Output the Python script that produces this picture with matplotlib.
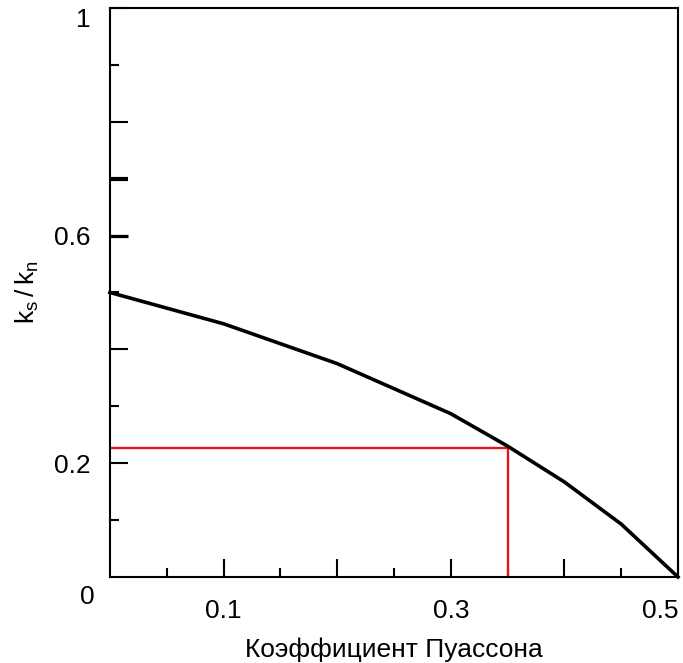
import matplotlib
matplotlib.use('Agg')
import matplotlib.pyplot as plt

plt.rcParams['font.family'] = ['Liberation Sans', 'DejaVu Sans']
plt.rcParams['mathtext.fontset'] = 'custom'
plt.rcParams['mathtext.rm'] = 'Liberation Sans'

# Данные кривой ks/kn от коэффициента Пуассона
nu = [0.0, 0.1, 0.2, 0.3, 0.35, 0.4, 0.45, 0.5]
ratio = [0.5, 0.445, 0.375, 0.287, 0.23, 0.167, 0.093, 0.0]

# Отметка выбранного значения
nu_mark = 0.35
ratio_mark = 0.226

x_major = [0.1, 0.2, 0.3, 0.4, 0.5]
x_labels = ['0.1', '', '0.3', '', '0.5']
x_minor = [0.05, 0.15, 0.25, 0.35, 0.45]
y_major = [0.2, 0.4, 0.6, 0.8, 1.0]
y_labels = ['0.2', '', '0.6', '', '1']
y_minor = [0.1, 0.3, 0.5, 0.9]

fig = plt.figure(figsize=(6.83, 6.63), dpi=100)
ax = fig.add_axes([0.161, 0.1297, 0.8317, 0.8583])

ax.plot(nu, ratio, color='black', lw=2.6, clip_on=False, zorder=3)
ax.plot([0, nu_mark, nu_mark], [ratio_mark, ratio_mark, 0], color='#e8141c', lw=1.7, zorder=2)

ax.set_xlim(0, 0.5)
ax.set_ylim(0, 1)

ax.set_xticks(x_major)
ax.set_xticklabels(x_labels)
ax.set_xticks(x_minor, minor=True)
ax.set_yticks(y_major)
ax.set_yticklabels(y_labels)
ax.set_yticks(y_minor, minor=True)

ax.tick_params(which='major', direction='in', length=13, width=1.5, labelsize=19)
ax.tick_params(axis='y', which='major', pad=14)
ax.tick_params(axis='x', which='major', pad=16)
ax.tick_params(which='minor', direction='in', length=6.5, width=1.5)
for s in ax.spines.values():
    s.set_linewidth(1.5)

# крайние подписи сдвинуты внутрь, как в оригинале
ax.get_xticklabels()[-1].set_horizontalalignment('right')
ax.get_yticklabels()[-1].set_verticalalignment('top')

# толстые отметки на 0.6 и 0.7
ax.plot([0, 0.0158], [0.7, 0.7], color='black', lw=3.0, solid_capstyle='butt', clip_on=False)
ax.plot([0, 0.0158], [0.6, 0.6], color='black', lw=2.3, solid_capstyle='butt', clip_on=False)

ax.text(-0.0195, -0.036, '0', fontsize=19, ha='center', va='center')

ax.set_xlabel('Коэффициент Пуассона', fontsize=19, labelpad=10)
ax.set_ylabel(r'$\mathregular{k_s\,/\,k_n}$', fontsize=19, labelpad=9)

fig.savefig('out.png', dpi=100)
